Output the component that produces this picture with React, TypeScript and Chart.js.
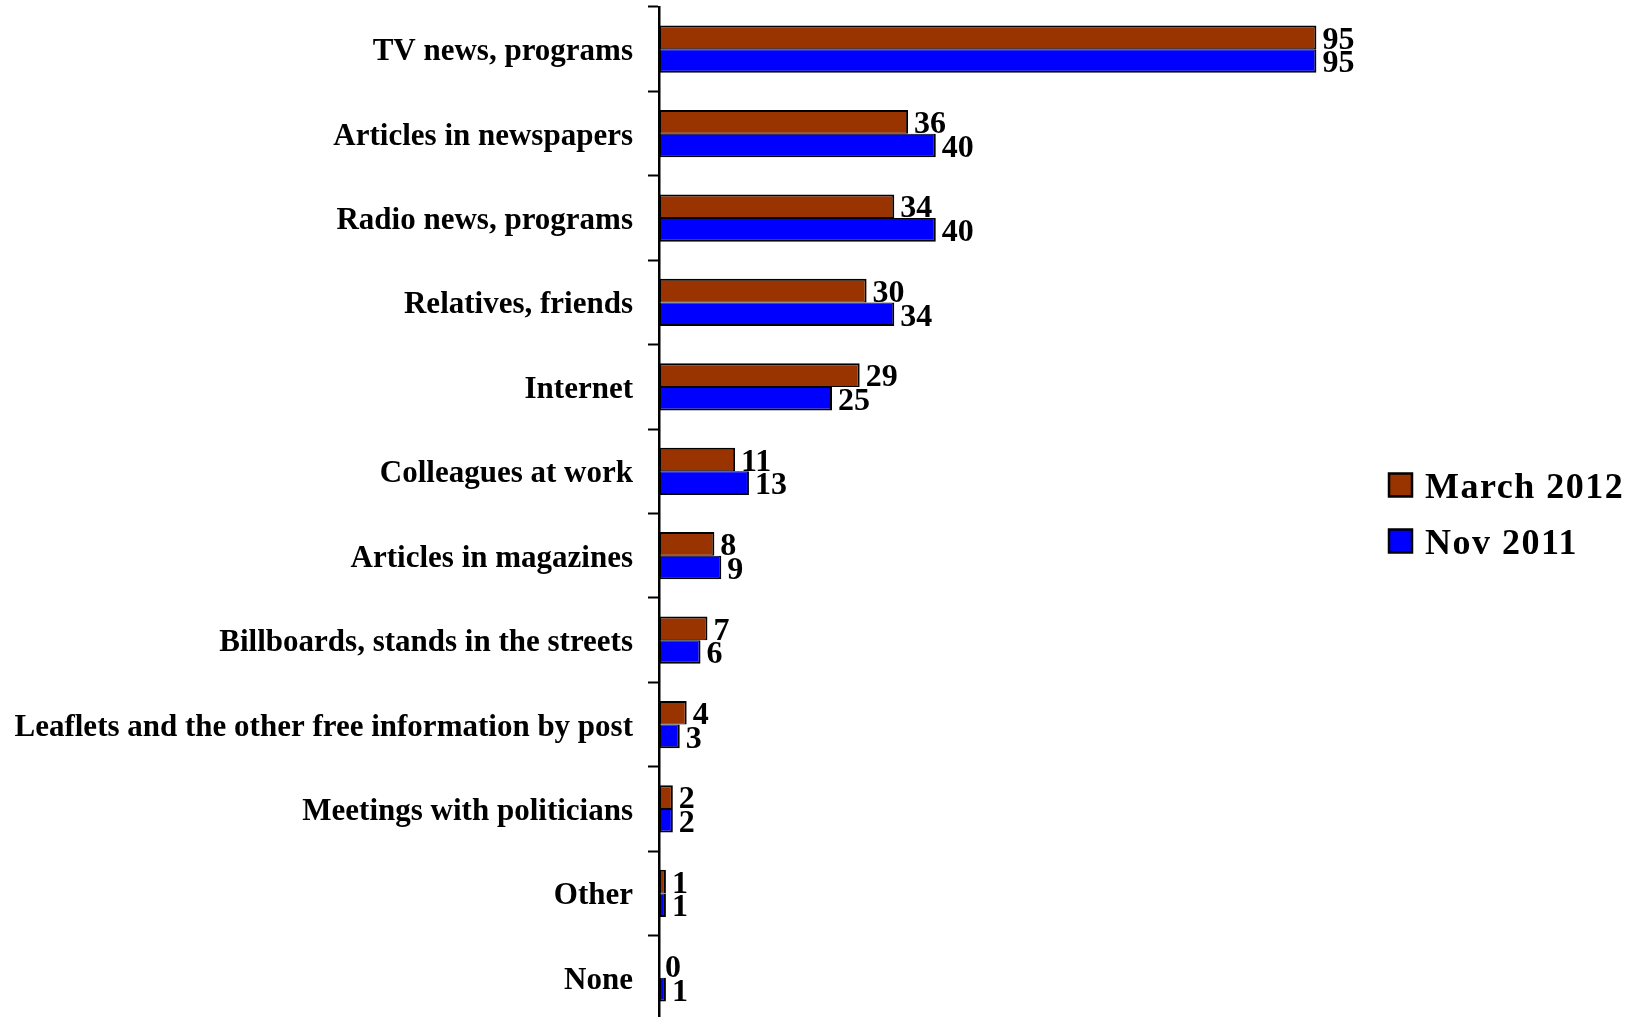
import React, { useEffect, useRef } from "react";
import { Chart, registerables } from "chart.js";

Chart.register(...registerables);

const categories = [
  "TV news, programs",
  "Articles in newspapers",
  "Radio news, programs",
  "Relatives, friends",
  "Internet",
  "Colleagues at work",
  "Articles in magazines",
  "Billboards, stands in the streets",
  "Leaflets and the other free information by post",
  "Meetings with politicians",
  "Other",
  "None",
];
const march2012 = [95, 36, 34, 30, 29, 11, 8, 7, 4, 2, 1, 0];
const nov2011 = [95, 40, 40, 34, 25, 13, 9, 6, 3, 2, 1, 1];
const seriesNames = ["March 2012", "Nov 2011"];
const seriesColors = ["#993300", "#0000FF"];

const FONT = "'Liberation Serif', 'Times New Roman', serif";

const valueLabels = {
  id: "valueLabels",
  afterDatasetsDraw(chart: any) {
    const ctx = chart.ctx;
    ctx.save();
    ctx.font = `bold 32px ${FONT}`;
    ctx.fillStyle = "#000";
    ctx.textAlign = "left";
    ctx.textBaseline = "middle";
    chart.data.datasets.forEach((ds: any, di: number) => {
      const meta = chart.getDatasetMeta(di);
      meta.data.forEach((el: any, i: number) => {
        ctx.fillText(String(ds.data[i]), el.x + 6, el.y + 3);
      });
    });
    ctx.restore();
  },
};

const customLegend = {
  id: "customLegend",
  afterDraw(chart: any) {
    const ctx = chart.ctx;
    ctx.save();
    const boxX = 1389;
    const box = 23;
    const ys = [485, 541];
    chart.data.datasets.forEach((ds: any, i: number) => {
      const cy = ys[i];
      ctx.fillStyle = ds.backgroundColor;
      ctx.fillRect(boxX, cy - box / 2, box, box);
      ctx.lineWidth = 2.5;
      ctx.strokeStyle = "#000";
      ctx.strokeRect(boxX, cy - box / 2, box, box);
      ctx.fillStyle = "#000";
      ctx.font = `bold 36px ${FONT}`;
      try {
        (ctx as any).letterSpacing = "1.5px";
      } catch (e) {}
      ctx.textAlign = "left";
      ctx.textBaseline = "middle";
      ctx.fillText(ds.label, 1425, cy + 4);
      try {
        (ctx as any).letterSpacing = "0px";
      } catch (e) {}
    });
    ctx.restore();
  },
};

export default function App() {
  const ref = useRef<HTMLCanvasElement | null>(null);
  useEffect(() => {
    if (!ref.current) return;
    const chart = new Chart(ref.current, {
      type: "bar",
      data: {
        labels: categories,
        datasets: [
          {
            label: seriesNames[0],
            data: march2012,
            backgroundColor: seriesColors[0],
            borderColor: "#000",
            borderWidth: { top: 2, right: 2, bottom: 1, left: 2 },
            borderSkipped: false,
          },
          {
            label: seriesNames[1],
            data: nov2011,
            backgroundColor: seriesColors[1],
            borderColor: "#000",
            borderWidth: { top: 1, right: 2, bottom: 2, left: 2 },
            borderSkipped: false,
          },
        ],
      },
      options: {
        indexAxis: "y",
        responsive: false,
        animation: false,
        devicePixelRatio: 1,
        layout: { padding: { left: 0, right: 286, top: 7, bottom: 10 } },
        datasets: { bar: { categoryPercentage: 0.56, barPercentage: 1.0 } },
        plugins: { legend: { display: false }, tooltip: { enabled: false } },
        scales: {
          x: { type: "linear", min: 0, max: 100, display: false },
          y: {
            type: "category",
            afterFit: (scale: any) => {
              scale.width = 659;
              scale.paddingTop = 0;
              scale.paddingBottom = 0;
            },
            border: { display: true, color: "#000", width: 2.5 },
            grid: {
              display: true,
              offset: true,
              drawOnChartArea: false,
              drawTicks: true,
              tickLength: 11,
              tickColor: "#000",
              tickWidth: 2,
            },
            ticks: {
              color: "#000",
              padding: 15,
              labelOffset: 3,
              font: { family: FONT, size: 31, weight: "bold" },
            },
          },
        },
      },
      plugins: [valueLabels, customLegend],
    });
    return () => chart.destroy();
  }, []);
  return (
    <div
      style={{
        position: "fixed",
        left: 0,
        top: 0,
        width: 1637,
        height: 1017,
        overflow: "hidden",
        background: "#fff",
      }}
    >
      <canvas ref={ref} width={1637} height={1030} style={{ width: 1637, height: 1030, display: "block" }} />
    </div>
  );
}
